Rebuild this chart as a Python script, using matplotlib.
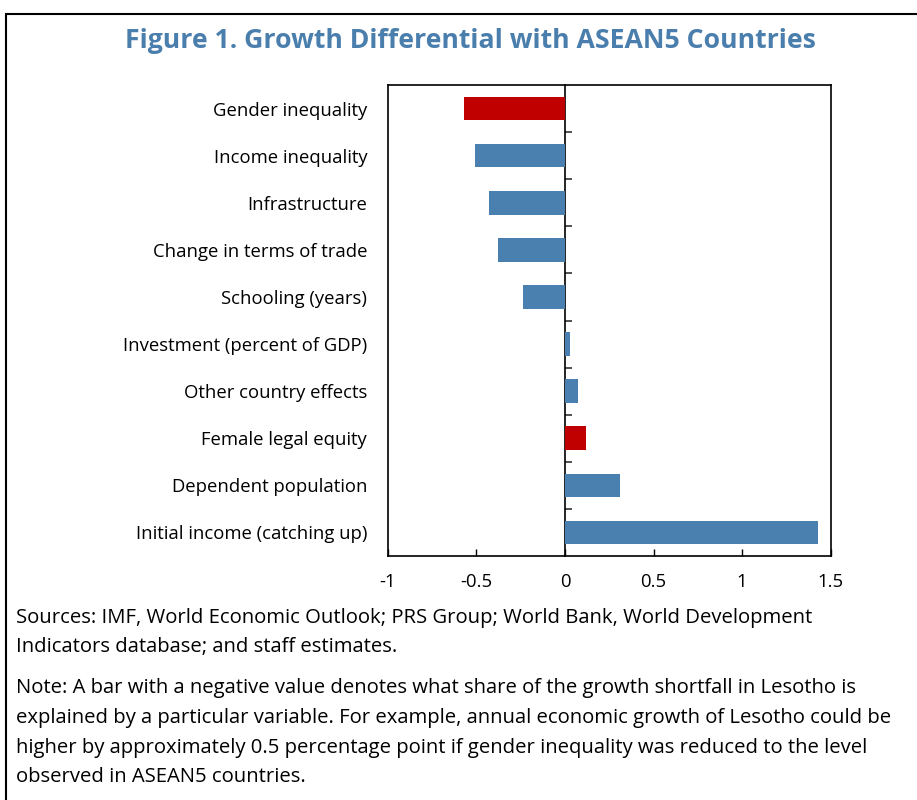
import matplotlib
matplotlib.use("Agg")
import matplotlib.pyplot as plt
from matplotlib.patches import Rectangle

plt.rcParams['font.family'] = ['Open Sans', 'DejaVu Sans']

CATEGORIES = [
    "Gender inequality",
    "Income inequality",
    "Infrastructure",
    "Change in terms of trade",
    "Schooling (years)",
    "Investment (percent of GDP)",
    "Other country effects",
    "Female legal equity",
    "Dependent population",
    "Initial income (catching up)",
]
VALUES = [-0.57, -0.51, -0.43, -0.38, -0.24, 0.03, 0.075, 0.12, 0.31, 1.43]
HIGHLIGHT = [True, False, False, False, False, False, False, True, False, False]

BLUE = "#4A80AF"
RED = "#C00000"
TITLE_COLOR = "#4A7EAD"

fig = plt.figure(figsize=(9.17, 8.0), dpi=100)
ax = fig.add_axes([0.4231, 0.305, 0.4826, 0.58875])

pos = list(range(len(CATEGORIES)))
colors = [RED if h else BLUE for h in HIGHLIGHT]
ax.barh(pos, VALUES, height=0.5, color=colors)

ax.set_xlim(-1, 1.5)
ax.set_ylim(len(CATEGORIES) - 0.5, -0.5)
ax.set_xticks([-1, -0.5, 0, 0.5, 1, 1.5])
ax.set_xticklabels(["-1", "-0.5", "0", "0.5", "1", "1.5"])
ax.tick_params(axis='x', direction='in', length=5, width=1, pad=12,
               labelsize=13.3)
ax.set_yticks(pos)
ax.set_yticklabels(CATEGORIES)
ax.tick_params(axis='y', length=0, pad=15, labelsize=13.3)
for s in ax.spines.values():
    s.set_linewidth(1.2)
    s.set_color("black")

# zero axis with category separator ticks
zero_frac = (0 - (-1)) / (1.5 - (-1))
sec = ax.secondary_yaxis(zero_frac)
sec.set_yticks([p + 0.5 for p in pos[:-1]])
sec.set_yticklabels([])
sec.tick_params(axis='y', direction='in', length=5, width=1.2, color="#333333")
sec.spines['left'].set_linewidth(1.2)

fig.text(0.513, 0.949, "Figure 1. Growth Differential with ASEAN5 Countries",
         ha='center', va='center', fontsize=19.2, fontweight='bold',
         color=TITLE_COLOR)

fig.text(0.0175, 0.2094,
         "Sources: IMF, World Economic Outlook; PRS Group; World Bank, World Development\n"
         "Indicators database; and staff estimates.",
         ha='left', va='center', fontsize=14.6, linespacing=1.65)
fig.text(0.0175, 0.0841,
         "Note: A bar with a negative value denotes what share of the growth shortfall in Lesotho is\n"
         "explained by a particular variable. For example, annual economic growth of Lesotho could be\n"
         "higher by approximately 0.5 percentage point if gender inequality was reduced to the level\n"
         "observed in ASEAN5 countries.",
         ha='left', va='center', fontsize=14.6, linespacing=1.65)

fig.patches.append(Rectangle((6 / 917, -0.1), 1.2, 1.1 - 14 / 800,
                             transform=fig.transFigure, fill=False,
                             edgecolor="black", linewidth=1.5))

fig.savefig("out.png", dpi=100)
